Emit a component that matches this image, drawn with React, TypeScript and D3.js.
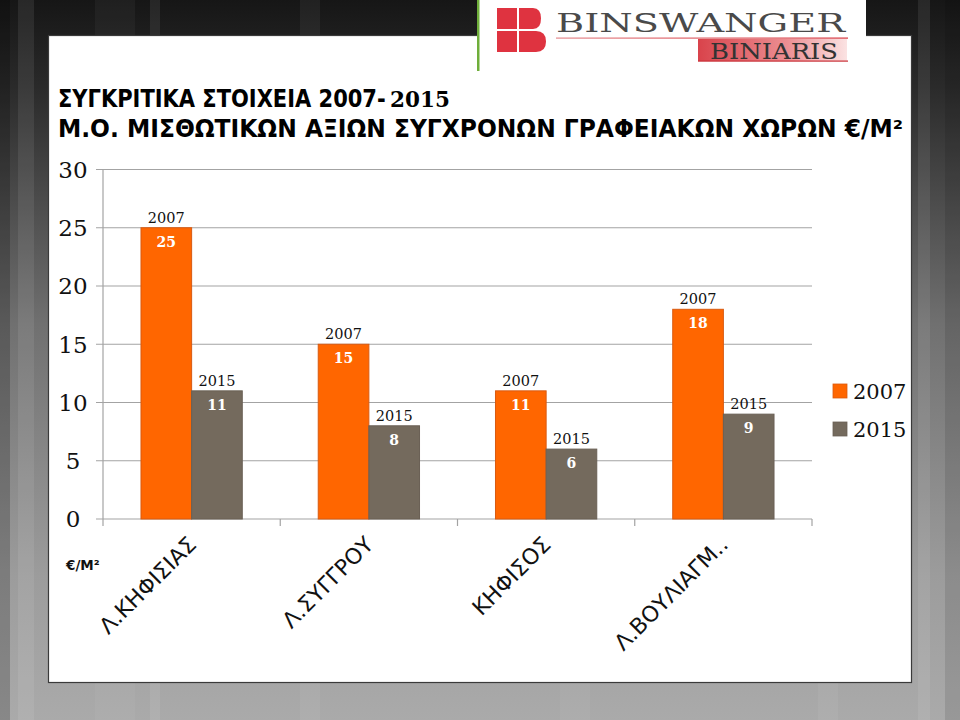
import React from "react";
import * as d3 from "d3";

const categories = ["Λ.ΚΗΦΙΣΙΑΣ", "Λ.ΣΥΓΓΡΟΥ", "ΚΗΦΙΣΟΣ", "Λ.ΒΟΥΛΙΑΓΜ.."];
const seriesNames = ["2007", "2015"];
const values2007 = [25, 15, 11, 18];
const values2015 = [11, 8, 6, 9];
const yTicks = [0, 5, 10, 15, 20, 25, 30];
const titleLine1 = "ΣΥΓΚΡΙΤΙΚΑ ΣΤΟΙΧΕΙΑ 2007-";
const titleLine1b = "2015";
const titleLine2 = "Μ.Ο. ΜΙΣΘΩΤΙΚΩΝ ΑΞΙΩΝ ΣΥΓΧΡΟΝΩΝ ΓΡΑΦΕΙΑΚΩΝ ΧΩΡΩΝ €/Μ²";
const unitLabel = "€/Μ²";

const colors: Record<string, string> = { "2007": "#FF6600", "2015": "#746A5D" };
const strokes: Record<string, string> = { "2007": "#D95A10", "2015": "#6A6055" };

const W = 960;
const H = 720;
const plot = { left: 103, right: 812, top: 169.5, bottom: 519 };
const serif = "'DejaVu Serif', serif";
const sans = "'DejaVu Sans', sans-serif";

export default function App() {
  const x0 = d3.scaleBand<string>().domain(categories).range([plot.left, plot.right]).paddingInner(0).paddingOuter(0);
  const x1 = d3.scaleBand<string>().domain(seriesNames).range([0, x0.bandwidth()]).paddingInner(0).paddingOuter(0.75);
  const y = d3.scaleLinear().domain([0, 30]).range([plot.bottom, plot.top]);
  const series: Record<string, number[]> = { "2007": values2007, "2015": values2015 };
  const boundaries = [...categories.map((c) => x0(c)!), plot.right];

  const stripes = [
    { x: 0, w: 10, o: -0.2 },
    { x: 18, w: 16, o: 0.08 },
    { x: 95, w: 40, o: 0.04 },
    { x: 150, w: 10, o: 0.07 },
    { x: 300, w: 20, o: 0.05 },
    { x: 560, w: 30, o: 0.04 },
    { x: 818, w: 20, o: 0.05 },
    { x: 918, w: 12, o: 0.08 },
    { x: 945, w: 15, o: -0.1 },
  ];

  return (
    <svg width={W} height={H} style={{ position: "absolute", left: 0, top: 0 }}>
      <defs>
        <linearGradient id="bg" x1="0" y1="0" x2="0" y2="1">
          <stop offset="0" stopColor="#161616" />
          <stop offset="0.12" stopColor="#2a2a2a" />
          <stop offset="0.45" stopColor="#707070" />
          <stop offset="0.8" stopColor="#9c9c9c" />
          <stop offset="1" stopColor="#aaaaaa" />
        </linearGradient>
        <linearGradient id="biniaris" x1="0" y1="0" x2="1" y2="0">
          <stop offset="0" stopColor="#d9434b" />
          <stop offset="0.6" stopColor="#ec8f93" />
          <stop offset="1" stopColor="#fbe3e3" />
        </linearGradient>
        <linearGradient id="redline" x1="0" y1="0" x2="1" y2="0">
          <stop offset="0" stopColor="#e58a8e" />
          <stop offset="1" stopColor="#d6333c" />
        </linearGradient>
      </defs>

      {/* background */}
      <rect x={0} y={0} width={W} height={H} fill="url(#bg)" />
      {stripes.map((s, i) => (
        <rect key={i} x={s.x} y={0} width={s.w} height={H}
          fill={s.o > 0 ? "#ffffff" : "#000000"} opacity={Math.abs(s.o)} />
      ))}

      {/* panel */}
      <rect x={48.5} y={35.5} width={863} height={647} fill="#ffffff" stroke="#3a3a3a" strokeWidth={1.2} />

      {/* logo */}
      <rect x={478} y={0} width={388} height={70} fill="#ffffff" />
      <rect x={477} y={0} width={2.5} height={71} fill="#6fae3a" />
      <g fill="#df3340">
        <rect x={497} y={8} width={20} height={21} />
        <rect x={497} y={31} width={20} height={21} />
        <path d="M519,8 H533 Q541,8 541,18.5 Q541,29 533,29 H519 Z" />
        <path d="M519,31 H536 Q546,31 546,41.5 Q546,52 536,52 H519 Z" />
      </g>
      <text x={556} y={32} fontFamily={serif} fontSize={26} fill="#4a4a4a"
        textLength={289} lengthAdjust="spacingAndGlyphs">BINSWANGER</text>
      <rect x={556} y={37.5} width={292} height={1.2} fill="url(#redline)" />
      <rect x={698} y={39} width={149} height={22} fill="url(#biniaris)" />
      <rect x={698} y={60.5} width={150} height={1.2} fill="#c92f37" />
      <text x={710} y={58.5} fontFamily={serif} fontSize={22} fill="#333"
        textLength={128} lengthAdjust="spacingAndGlyphs">BINIARIS</text>

      {/* title */}
      <g transform="translate(58,107) scale(1,1.16)">
        <text x={0} y={0} fontFamily={sans} fontWeight="bold" fontSize={21} fill="#000">{titleLine1}</text>
      </g>
      <text x={390} y={107} fontFamily={serif} fontWeight="bold" fontSize={21.5} fill="#000">{titleLine1b}</text>
      <text x={58} y={137} fontFamily={sans} fontWeight="bold" fontSize={24} fill="#000"
        textLength={845} lengthAdjust="spacingAndGlyphs">{titleLine2}</text>

      {/* gridlines & y axis */}
      {yTicks.map((t) => (
        <g key={t}>
          <line x1={96} x2={plot.right} y1={y(t)} y2={y(t)} stroke="#a3a3a3" strokeWidth={1.2} />
          <text x={73} y={y(t)} dy="0.36em" textAnchor="middle" fontFamily={serif} fontSize={23} fill="#111">{t}</text>
        </g>
      ))}
      <line x1={plot.left} x2={plot.left} y1={plot.top} y2={plot.bottom} stroke="#a3a3a3" strokeWidth={1.2} />
      {boundaries.map((b, i) => (
        <line key={i} x1={b} x2={b} y1={plot.bottom} y2={plot.bottom + 7} stroke="#a3a3a3" strokeWidth={1.2} />
      ))}

      {/* bars */}
      {categories.map((c, ci) => (
        <g key={c}>
          {seriesNames.map((s) => {
            const v = series[s][ci];
            const bx = x0(c)! + x1(s)!;
            const bw = x1.bandwidth();
            const top = y(v);
            return (
              <g key={s}>
                <rect x={bx} y={top} width={bw} height={plot.bottom - top}
                  fill={colors[s]} stroke={strokes[s]} strokeWidth={1} />
                <text x={bx + bw / 2} y={top - 5} textAnchor="middle" fontFamily={serif}
                  fontSize={14.5} fill="#111">{s}</text>
                <text x={bx + bw / 2} y={top + 19} textAnchor="middle" fontFamily={serif}
                  fontWeight="bold" fontSize={14} fill="#ffffff">{v}</text>
              </g>
            );
          })}
        </g>
      ))}

      {/* category labels */}
      {categories.map((c) => {
        const cx = x0(c)! + x0.bandwidth() / 2 + 6;
        const cy = 546;
        return (
          <text key={c} x={cx} y={cy} textAnchor="end" fontFamily={sans} fontSize={22} fill="#111"
            transform={`rotate(-45, ${cx}, ${cy})`}>{c}</text>
        );
      })}

      <text x={66} y={570} fontFamily={sans} fontWeight="bold" fontSize={13.5} fill="#111">{unitLabel}</text>

      {/* legend */}
      {seriesNames.map((s, i) => (
        <g key={s}>
          <rect x={833} y={384 + i * 38} width={14} height={14} fill={colors[s]} stroke={strokes[s]} strokeWidth={0.8} />
          <text x={853} y={399 + i * 38} fontFamily={serif} fontSize={21} fill="#111">{s}</text>
        </g>
      ))}
    </svg>
  );
}
